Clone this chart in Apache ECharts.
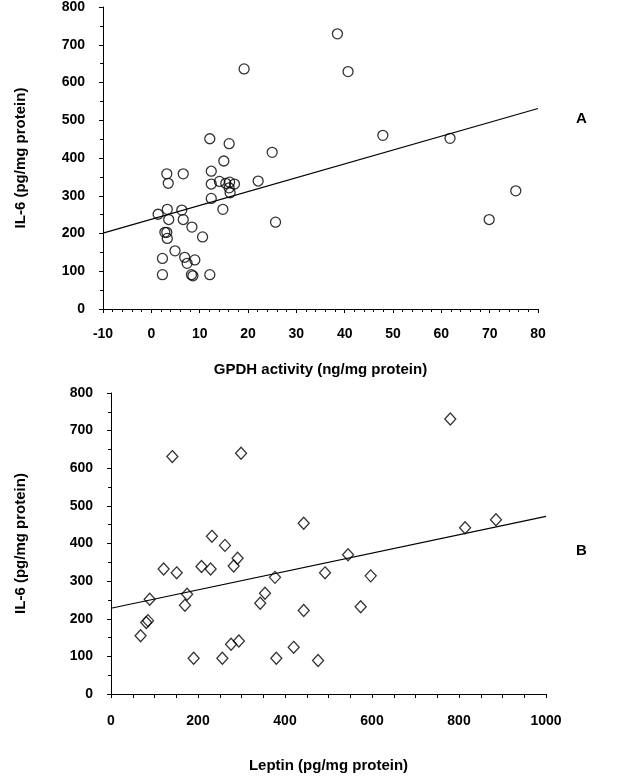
<!DOCTYPE html>
<html>
<head>
<meta charset="utf-8">
<script src="https://cdn.jsdelivr.net/npm/echarts@6/dist/echarts.min.js"></script>
<style>
	html, body { margin: 0; padding: 0; background: #fff; }
	#chart { width: 624px; height: 782px; }
</style>
</head>
<body>
<div id="chart"></div>
<script>
// panel A: GPDH activity vs IL-6
const gpdhX = [38.5, 19.2, 12.1, 16.1, 25.0, 15.0, 3.2, 6.6, 12.4, 3.5, 12.4, 14.1, 15.4, 16.2, 17.2, 16.1, 16.3, 22.1, 12.4, 14.8,
	1.4, 3.3, 6.3, 3.6, 6.6, 8.4, 25.7, 2.8, 3.2, 3.3, 10.6, 4.9, 2.3, 6.9, 9.0, 7.4, 2.3, 8.3, 8.6, 12.1,
	40.7, 47.9, 61.8, 69.9, 75.4];
const gpdhIL6 = [729, 636, 451, 438, 415, 392, 358, 358, 365, 333, 331, 338, 333, 336, 331, 321, 308, 339, 293, 264,
	251, 264, 262, 237, 237, 217, 230, 203, 203, 187, 191, 154, 134, 137, 130, 121, 91, 91, 88, 91,
	629, 460, 452, 237, 313];
const fitA = [[-10, 201], [80, 531]];

// panel B: leptin vs IL-6
const leptinX = [141, 299, 443, 232, 262, 291, 282, 121, 208, 229, 151, 492, 377, 545, 175, 170, 354, 343, 89, 443,
	85, 81, 68, 276, 294, 420, 190, 256, 380, 476, 780, 814, 885, 597, 574];
const leptinIL6 = [631, 640, 454, 419, 395, 361, 340, 332, 339, 332, 322, 322, 310, 370, 265, 236, 268, 241, 252, 222,
	195, 190, 155, 132, 141, 124, 95, 95, 95, 89, 731, 442, 463, 314, 232];
const fitB = [[0, 228], [1000, 472]];

const zip = (xs, ys) => xs.map((x, i) => [x, ys[i]]);

let chart = echarts.init(document.getElementById('chart'));

const font = 'Liberation Sans, Arial, sans-serif';
const labelStyle = { color: '#000', fontFamily: font, fontWeight: 'bold', fontSize: 14 };
const nameStyle = { color: '#000', fontFamily: font, fontWeight: 'bold', fontSize: 15 };
const axisLine = { show: true, onZero: false, lineStyle: { color: '#000', width: 1 } };
const plain = v => String(v);

let option = {
	animation: false,
	backgroundColor: '#fff',
	title: [
		{ text: 'A', left: 571, top: 106, textStyle: nameStyle },
		{ text: 'B', left: 571, top: 538, textStyle: nameStyle }
	],
	grid: [
		{ left: 103, top: 7, width: 435, height: 302 },
		{ left: 111, top: 393, width: 435, height: 301 }
	],
	xAxis: [
		{
			gridIndex: 0, type: 'value', min: -10, max: 80, interval: 10,
			name: 'GPDH activity (ng/mg protein)', nameLocation: 'middle', nameGap: 53, nameTextStyle: nameStyle,
			axisLine: axisLine, axisTick: { show: true, length: 4, lineStyle: { color: '#000' } },
			minorTick: { show: true, splitNumber: 5, length: 3, lineStyle: { color: '#000' } },
			axisLabel: Object.assign({ margin: 18, formatter: plain }, labelStyle),
			splitLine: { show: false }
		},
		{
			gridIndex: 1, type: 'value', min: 0, max: 1000, interval: 200,
			name: 'Leptin (pg/mg protein)', nameLocation: 'middle', nameGap: 64, nameTextStyle: nameStyle,
			axisLine: axisLine, axisTick: { show: true, length: 4, lineStyle: { color: '#000' } },
			minorTick: { show: true, splitNumber: 4, length: 4, lineStyle: { color: '#000' } },
			axisLabel: Object.assign({ margin: 20, formatter: plain }, labelStyle),
			splitLine: { show: false }
		}
	],
	yAxis: [
		{
			gridIndex: 0, type: 'value', min: 0, max: 800, interval: 100,
			name: 'IL-6 (pg/mg protein)', nameLocation: 'middle', nameGap: 75, nameTextStyle: nameStyle,
			axisLine: axisLine, axisTick: { show: true, length: 4, lineStyle: { color: '#000' } },
			minorTick: { show: true, splitNumber: 2, length: 3, lineStyle: { color: '#000' } },
			axisLabel: Object.assign({ margin: 18 }, labelStyle),
			splitLine: { show: false }
		},
		{
			gridIndex: 1, type: 'value', min: 0, max: 800, interval: 100,
			name: 'IL-6 (pg/mg protein)', nameLocation: 'middle', nameGap: 83, nameTextStyle: nameStyle,
			axisLine: axisLine, axisTick: { show: true, length: 4, lineStyle: { color: '#000' } },
			minorTick: { show: true, splitNumber: 2, length: 3, lineStyle: { color: '#000' } },
			axisLabel: Object.assign({ margin: 18 }, labelStyle),
			splitLine: { show: false }
		}
	],
	series: [
		{
			type: 'line', xAxisIndex: 0, yAxisIndex: 0, data: fitA, symbol: 'none',
			lineStyle: { color: '#000', width: 1.2 }, silent: true
		},
		{
			type: 'scatter', xAxisIndex: 0, yAxisIndex: 0, data: zip(gpdhX, gpdhIL6),
			symbol: 'circle', symbolSize: 10,
			itemStyle: { color: 'rgba(255,255,255,0)', borderColor: '#000', borderWidth: 1.3 }
		},
		{
			type: 'line', xAxisIndex: 1, yAxisIndex: 1, data: fitB, symbol: 'none',
			lineStyle: { color: '#000', width: 1.2 }, silent: true
		},
		{
			type: 'scatter', xAxisIndex: 1, yAxisIndex: 1, data: zip(leptinX, leptinIL6),
			symbol: 'diamond', symbolSize: [11, 12],
			itemStyle: { color: 'rgba(255,255,255,0)', borderColor: '#000', borderWidth: 1.3 }
		}
	]
};
chart.setOption(option);
</script>
</body>
</html>
